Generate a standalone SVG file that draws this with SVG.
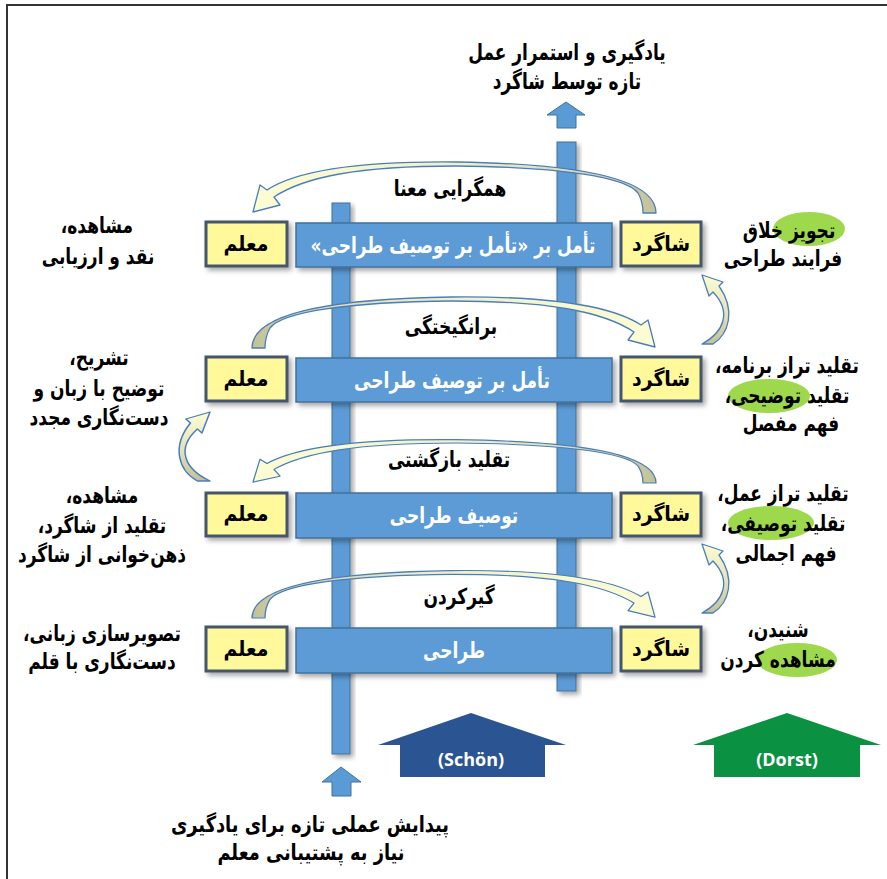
<svg xmlns="http://www.w3.org/2000/svg" xmlns:xlink="http://www.w3.org/1999/xlink" width="887" height="879" viewBox="0 0 887 879">
  <style>
    .fa { font-family: "DejaVu Sans Condensed", "DejaVu Sans", sans-serif; font-stretch: condensed; font-weight: bold; direction: rtl; text-anchor: middle; }
    .nar { transform-box: fill-box; transform-origin: center; transform: scaleX(0.86); }
    .lbl { font-size: 22px; fill: #000; }
    .side { font-size: 22px; fill: #000; }
    .head { font-size: 23px; fill: #000; transform-box: fill-box; transform-origin: center; transform: scaleX(0.82); }
    .orig { font-size: 22px; fill: #000; transform-box: fill-box; transform-origin: center; transform: scaleX(0.9); }
    .box-y { fill: #fff99c; stroke: #44546a; stroke-width: 3; }
    .box-b { fill: #5b9bd5; stroke: #41719c; stroke-width: 1.5; }
    .bar { fill: #5b9bd5; stroke: #41719c; stroke-width: 1; }
    .btxt { font-size: 22px; fill: #fff; }
    .ytxt { font-size: 21px; fill: #000; }
    .hl { fill: #9ed84c; }
    .carrow { stroke: #4a7ebb; stroke-width: 1.3; stroke-linejoin: round; }
    .latin { font-family: "Open Sans", "DejaVu Sans", sans-serif; font-weight: bold; font-size: 18px; fill: #fff; text-anchor: middle; }
  </style>
  <defs>
    <filter id="shadow" x="-20%" y="-20%" width="150%" height="160%">
      <feDropShadow dx="3" dy="3" stdDeviation="2.5" flood-color="#000" flood-opacity="0.35"/>
    </filter>
    <linearGradient id="ribbonH" x1="0" y1="0" x2="1" y2="0">
      <stop offset="0" stop-color="#c3c197"/>
      <stop offset="0.1" stop-color="#d3d1aa"/>
      <stop offset="0.45" stop-color="#eeefcb"/>
      <stop offset="1" stop-color="#fdfdd4"/>
    </linearGradient>
    <linearGradient id="ribbonV" x1="0" y1="1" x2="0" y2="0">
      <stop offset="0" stop-color="#c3c197"/>
      <stop offset="0.4" stop-color="#e0dfba"/>
      <stop offset="1" stop-color="#fdfdd4"/>
    </linearGradient>
    <!-- curved ribbon arrow over a level: tail at origin, head to the right -->
    <path id="arcH" class="carrow" fill="url(#ribbonH)" d="M0,0 C0,-30 60,-49 200,-51 C300,-52 360,-42 389,-23 L396,-28 L403,-1 L376,-8 L382,-16 C352,-36 298,-47 200,-47 C95,-46 30,-36 18,-20 C14,-13 13,-6 13,0 Z"/>
    <!-- curved ribbon arrow between levels: tail at origin, head up-left -->
    <path id="arcV" class="carrow" fill="url(#ribbonV)" d="M0,0 C22,-12 30,-32 11,-52 L7,-48 L0,-69 L21,-62 L17,-58 C34,-34 27,-10 11,0 Z"/>
  </defs>

  <rect width="887" height="879" fill="#fff"/>
  <path d="M7,879 V5 H887" fill="none" stroke="#333" stroke-width="2"/>

  <!-- vertical flows -->
  <g id="flows">
    <rect class="bar" x="557" y="142" width="19" height="549" filter="url(#shadow)"/>
    <rect class="bar" x="332" y="203" width="18" height="551" filter="url(#shadow)"/>
    <path class="bar" d="M566,102 L585,115 L576,115 L576,128 L557,128 L557,115 L547,115 Z"/>
    <path class="bar" d="M341,767 L361,782 L351,782 L351,796 L332,796 L332,782 L322,782 Z"/>
  </g>

  <!-- connectors -->
  <g id="connectors">
    <use xlink:href="#arcH" transform="translate(656,213) scale(-1,1)"/>
    <use xlink:href="#arcH" transform="translate(252,348)"/>
    <use xlink:href="#arcH" transform="translate(656,483) scale(-1,0.85)"/>
    <use xlink:href="#arcH" transform="translate(252,618) scale(1,0.93)"/>
    <use xlink:href="#arcV" transform="translate(702,344)"/>
    <use xlink:href="#arcV" transform="translate(702,613)"/>
    <use xlink:href="#arcV" transform="translate(210,481) scale(-1.15,1)"/>
  </g>

  <!-- level 1 -->
  <g id="level1">
    <rect class="box-b" x="296" y="223" width="316" height="44" filter="url(#shadow)"/>
    <text class="fa btxt nar" x="453" y="253">تأمل بر «تأمل بر توصیف طراحی»</text>
  </g>
  <g id="teacher1">
    <rect class="box-y" x="206" y="222" width="81" height="44" filter="url(#shadow)"/>
    <text class="fa ytxt" x="246" y="251">معلم</text>
  </g>
  <g id="student1">
    <rect class="box-y" x="621" y="222" width="80" height="44" filter="url(#shadow)"/>
    <text class="fa ytxt" x="661" y="251">شاگرد</text>
  </g>

  <!-- level 2 -->
  <g id="level2">
    <rect class="box-b" x="296" y="358" width="316" height="44" filter="url(#shadow)"/>
    <text class="fa btxt nar" x="452" y="388">تأمل بر توصیف طراحی</text>
  </g>
  <g id="teacher2">
    <rect class="box-y" x="206" y="357" width="81" height="44" filter="url(#shadow)"/>
    <text class="fa ytxt" x="246" y="386">معلم</text>
  </g>
  <g id="student2">
    <rect class="box-y" x="621" y="357" width="80" height="44" filter="url(#shadow)"/>
    <text class="fa ytxt" x="661" y="386">شاگرد</text>
  </g>

  <!-- level 3 -->
  <g id="level3">
    <rect class="box-b" x="296" y="493" width="316" height="45" filter="url(#shadow)"/>
    <text class="fa btxt nar" x="454" y="523">توصیف طراحی</text>
  </g>
  <g id="teacher3">
    <rect class="box-y" x="206" y="493" width="81" height="43" filter="url(#shadow)"/>
    <text class="fa ytxt" x="246" y="521">معلم</text>
  </g>
  <g id="student3">
    <rect class="box-y" x="621" y="493" width="80" height="43" filter="url(#shadow)"/>
    <text class="fa ytxt" x="661" y="521">شاگرد</text>
  </g>

  <!-- level 4 -->
  <g id="level4">
    <rect class="box-b" x="296" y="628" width="316" height="45" filter="url(#shadow)"/>
    <text class="fa btxt nar" x="454" y="658">طراحی</text>
  </g>
  <g id="teacher4">
    <rect class="box-y" x="206" y="627" width="81" height="44" filter="url(#shadow)"/>
    <text class="fa ytxt" x="246" y="656">معلم</text>
  </g>
  <g id="student4">
    <rect class="box-y" x="621" y="627" width="80" height="44" filter="url(#shadow)"/>
    <text class="fa ytxt" x="661" y="656">شاگرد</text>
  </g>

  <!-- arc labels -->
  <g id="arc-labels">
    <text class="fa lbl nar" x="450" y="196">همگرایی معنا</text>
    <text class="fa lbl nar" x="451" y="334">برانگیختگی</text>
    <text class="fa lbl nar" x="449" y="467">تقلید بازگشتی</text>
    <text class="fa lbl nar" x="459" y="604">گیرکردن</text>
  </g>

  <!-- teacher-side notes -->
  <g id="teacher-notes">
    <text class="fa side nar" x="97" y="233">مشاهده،</text>
    <text class="fa side nar" x="98" y="264">نقد و ارزیابی</text>
    <text class="fa side nar" x="99" y="365">تشریح،</text>
    <text class="fa side nar" x="99" y="396">توضیح با زبان و</text>
    <text class="fa side nar" x="99" y="425">دست‌نگاری مجدد</text>
    <text class="fa side nar" x="102" y="503">مشاهده،</text>
    <text class="fa side nar" x="102" y="533">تقلید از شاگرد،</text>
    <text class="fa side nar" x="102" y="562">ذهن‌خوانی از شاگرد</text>
    <text class="fa side nar" x="102" y="641">تصویرسازی زبانی،</text>
    <text class="fa side nar" x="102" y="669">دست‌نگاری با قلم</text>
  </g>

  <!-- student-side notes -->
  <g id="student-notes">
    <ellipse class="hl" cx="809" cy="229" rx="36" ry="17"/>
    <ellipse class="hl" cx="769" cy="396" rx="41" ry="17"/>
    <ellipse class="hl" cx="771" cy="523" rx="43" ry="17"/>
    <ellipse class="hl" cx="797" cy="660" rx="40" ry="17"/>
    <text class="fa side nar" x="789" y="238">تجویز خلاق</text>
    <text class="fa side nar" x="783" y="266">فرایند طراحی</text>
    <text class="fa side nar" x="787" y="373">تقلید تراز برنامه،</text>
    <text class="fa side nar" x="787" y="403">تقلید توضیحی،</text>
    <text class="fa side nar" x="791" y="431">فهم مفصل</text>
    <text class="fa side nar" x="783" y="501">تقلید تراز عمل،</text>
    <text class="fa side nar" x="783" y="531">تقلید توصیفی،</text>
    <text class="fa side nar" x="786" y="561">فهم اجمالی</text>
    <text class="fa side nar" x="778" y="637">شنیدن،</text>
    <text class="fa side nar" x="778" y="667">مشاهده کردن</text>
  </g>

  <!-- outcome and starting point -->
  <g id="outcome">
    <text class="fa head" x="567" y="60">یادگیری و استمرار عمل</text>
    <text class="fa head" x="567" y="89">تازه توسط شاگرد</text>
  </g>
  <g id="origin">
    <text class="fa orig" x="310" y="832">پیدایش عملی تازه برای یادگیری</text>
    <text class="fa orig" x="311" y="860">نیاز به پشتیبانی معلم</text>
  </g>

  <!-- theory arrows -->
  <g id="schon">
    <path d="M471,713 L566,745 L545,745 L545,777 L400,777 L400,745 L378,745 Z" fill="#2a5592"/>
    <text class="latin" x="471" y="766">(Schön)</text>
  </g>
  <g id="dorst">
    <path d="M787,713 L881,745 L860,745 L860,777 L714,777 L714,745 L693,745 Z" fill="#0a9142"/>
    <text class="latin" x="787" y="766">(Dorst)</text>
  </g>
</svg>
